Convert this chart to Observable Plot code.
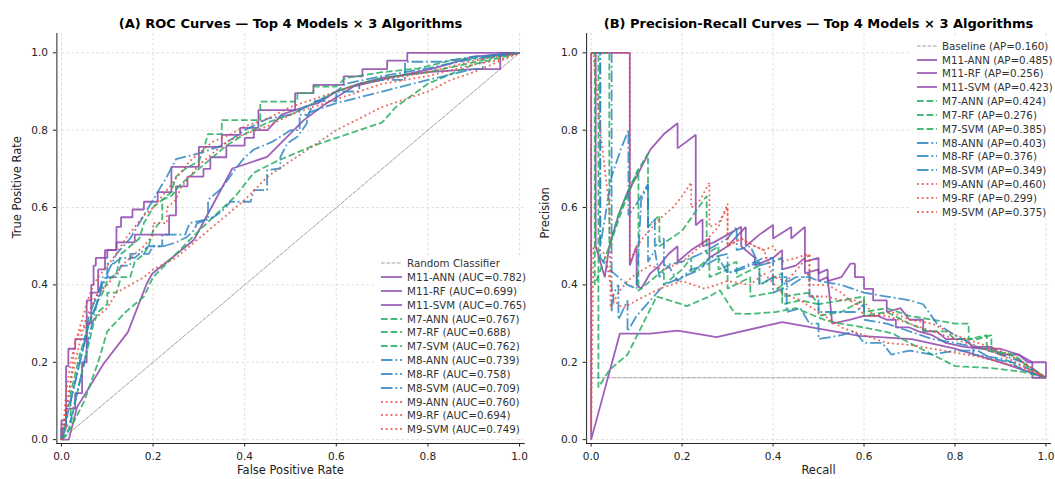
<!DOCTYPE html>
<html><head><meta charset="utf-8">
<script src="https://cdn.jsdelivr.net/npm/d3@7"></script>
<script src="https://cdn.jsdelivr.net/npm/@observablehq/plot@0.6"></script>
<style>
body{margin:0;background:#fff;font-family:"DejaVu Sans",sans-serif;}
#wrap{position:relative;width:1055px;height:479px;overflow:hidden;}
.panel{position:absolute;top:0;}
.legend{position:absolute;background:rgba(255,255,255,0.85);border-radius:3px;}
.row{position:absolute;left:0;height:14px;display:flex;align-items:center;font-size:10.3px;color:#333;white-space:nowrap;}
.row svg{margin-right:5px;}
</style>
</head><body><div id="wrap"></div>
<script>
// ---------- data ----------
const seriesNames = ["M11-ANN","M11-RF","M11-SVM","M7-ANN","M7-RF","M7-SVM","M8-ANN","M8-RF","M8-SVM","M9-ANN","M9-RF","M9-SVM"];
const aucValues = [0.782,0.699,0.765,0.767,0.688,0.762,0.739,0.758,0.709,0.760,0.694,0.749];
const apValues  = [0.485,0.256,0.423,0.424,0.276,0.385,0.403,0.376,0.349,0.460,0.299,0.375];
const baselineAP = 0.160;
const diagonal = [[0,0],[1,1]];
const tickValues = [0,0.2,0.4,0.6,0.8,1.0];

// ROC curves [fpr, tpr]
const rocM11ANN = [[0,0],[0,0.05],[0.01,0.05],[0.01,0.19],[0.015,0.19],[0.015,0.235],[0.03,0.235],[0.03,0.26],[0.055,0.26],[0.055,0.36],[0.065,0.36],[0.065,0.4],[0.07,0.4],[0.07,0.45],[0.075,0.45],[0.075,0.47],[0.1,0.47],[0.1,0.49],[0.12,0.49],[0.12,0.55],[0.13,0.55],[0.13,0.575],[0.155,0.575],[0.155,0.595],[0.18,0.595],[0.18,0.615],[0.21,0.615],[0.21,0.64],[0.24,0.64],[0.24,0.705],[0.3,0.705],[0.3,0.757],[0.35,0.757],[0.35,0.788],[0.39,0.788],[0.39,0.806],[0.43,0.806],[0.43,0.852],[0.51,0.852],[0.51,0.896],[0.55,0.896],[0.55,0.917],[0.616,0.917],[0.616,0.939],[0.657,0.939],[0.657,0.958],[0.711,0.958],[0.711,0.98],[0.755,0.98],[0.755,1.0],[1,1]];
const rocM11RF = [[0,0],[0.016,0],[0.034,0.084],[0.092,0.196],[0.145,0.278],[0.186,0.403],[0.198,0.429],[0.289,0.516],[0.373,0.701],[0.449,0.731],[0.529,0.826],[0.573,0.865],[0.638,0.913],[0.711,0.934],[0.813,0.96],[0.9,0.99],[1,1]];
const rocM11SVM = [[0,0],[0,0.03],[0.01,0.03],[0.01,0.08],[0.03,0.08],[0.03,0.12],[0.045,0.12],[0.045,0.2],[0.055,0.2],[0.055,0.3],[0.065,0.3],[0.065,0.38],[0.08,0.38],[0.08,0.44],[0.095,0.44],[0.095,0.49],[0.12,0.49],[0.12,0.51],[0.16,0.51],[0.16,0.53],[0.235,0.53],[0.235,0.58],[0.25,0.58],[0.25,0.655],[0.275,0.655],[0.275,0.68],[0.31,0.68],[0.31,0.7],[0.325,0.7],[0.325,0.73],[0.36,0.73],[0.36,0.76],[0.4,0.76],[0.4,0.78],[0.42,0.78],[0.42,0.8],[0.45,0.8],[0.48,0.84],[0.53,0.86],[0.56,0.87],[0.6,0.9],[0.65,0.92],[0.7,0.935],[0.8,0.95],[0.9,0.958],[0.958,0.958],[0.958,1],[1,1]];
const rocM7ANN = [[0,0],[0.005,0.02],[0.01,0.06],[0.02,0.06],[0.02,0.12],[0.03,0.17],[0.04,0.22],[0.05,0.26],[0.06,0.3],[0.07,0.33],[0.08,0.36],[0.09,0.38],[0.1,0.41],[0.12,0.43],[0.13,0.48],[0.15,0.5],[0.17,0.52],[0.18,0.56],[0.2,0.6],[0.22,0.62],[0.24,0.64],[0.25,0.68],[0.27,0.7],[0.3,0.72],[0.31,0.75],[0.32,0.79],[0.35,0.79],[0.35,0.826],[0.434,0.826],[0.434,0.874],[0.515,0.874],[0.515,0.896],[0.55,0.896],[0.55,0.913],[0.6,0.913],[0.62,0.935],[0.7,0.95],[0.78,0.96],[0.85,0.98],[0.93,0.99],[1,1]];
const rocM7RF = [[0,0],[0.02,0.03],[0.05,0.1],[0.08,0.2],[0.1,0.28],[0.14,0.33],[0.18,0.37],[0.2,0.42],[0.25,0.48],[0.3,0.54],[0.38,0.63],[0.42,0.69],[0.47,0.72],[0.55,0.76],[0.6,0.78],[0.7,0.82],[0.73,0.86],[0.8,0.92],[0.9,0.97],[1,1]];
const rocM7SVM = [[0,0],[0.01,0.01],[0.02,0.04],[0.03,0.1],[0.04,0.15],[0.05,0.2],[0.06,0.25],[0.07,0.3],[0.08,0.33],[0.1,0.35],[0.1,0.38],[0.12,0.38],[0.13,0.42],[0.15,0.42],[0.16,0.46],[0.18,0.48],[0.19,0.5],[0.2,0.54],[0.22,0.57],[0.22,0.62],[0.24,0.63],[0.26,0.66],[0.28,0.68],[0.3,0.7],[0.32,0.72],[0.34,0.74],[0.36,0.76],[0.4,0.79],[0.45,0.82],[0.5,0.84],[0.55,0.87],[0.6,0.9],[0.65,0.92],[0.7,0.935],[0.8,0.95],[0.88,0.97],[0.95,0.99],[1,1]];
const rocM8ANN = [[0,0],[0,0.04],[0.01,0.04],[0.01,0.08],[0.02,0.1],[0.03,0.15],[0.04,0.2],[0.05,0.25],[0.06,0.3],[0.07,0.33],[0.08,0.36],[0.09,0.4],[0.1,0.42],[0.12,0.42],[0.13,0.45],[0.15,0.45],[0.15,0.48],[0.19,0.48],[0.2,0.5],[0.22,0.5],[0.22,0.53],[0.27,0.53],[0.28,0.56],[0.32,0.57],[0.32,0.62],[0.35,0.65],[0.38,0.7],[0.4,0.73],[0.42,0.75],[0.46,0.77],[0.5,0.8],[0.52,0.8],[0.52,0.84],[0.54,0.84],[0.55,0.875],[0.6,0.875],[0.6,0.9],[0.65,0.9],[0.65,0.92],[0.7,0.93],[0.75,0.93],[0.75,0.977],[0.83,0.977],[0.9,0.99],[1,1]];
const rocM8RF = [[0,0],[0.01,0.05],[0.03,0.15],[0.05,0.25],[0.06,0.32],[0.08,0.38],[0.1,0.43],[0.12,0.48],[0.15,0.52],[0.18,0.58],[0.2,0.62],[0.23,0.68],[0.25,0.725],[0.3,0.74],[0.35,0.76],[0.4,0.8],[0.45,0.83],[0.5,0.84],[0.55,0.87],[0.6,0.9],[0.62,0.92],[0.7,0.94],[0.8,0.96],[0.88,0.98],[1,1]];
const rocM8SVM = [[0,0],[0.01,0.03],[0.02,0.05],[0.03,0.1],[0.04,0.15],[0.05,0.2],[0.06,0.27],[0.07,0.31],[0.08,0.37],[0.09,0.42],[0.1,0.42],[0.1,0.455],[0.114,0.455],[0.13,0.47],[0.16,0.47],[0.19,0.5],[0.223,0.5],[0.25,0.51],[0.274,0.524],[0.289,0.541],[0.296,0.559],[0.333,0.576],[0.35,0.59],[0.369,0.615],[0.413,0.615],[0.42,0.645],[0.449,0.645],[0.449,0.697],[0.478,0.701],[0.478,0.731],[0.493,0.766],[0.515,0.783],[0.536,0.818],[0.536,0.844],[0.6,0.87],[0.7,0.9],[0.8,0.93],[0.9,0.958],[0.92,0.958],[0.92,0.99],[1,1]];
const rocM9ANN = [[0,0],[0.005,0.05],[0.01,0.12],[0.02,0.2],[0.03,0.25],[0.04,0.29],[0.05,0.33],[0.06,0.37],[0.07,0.4],[0.08,0.42],[0.1,0.45],[0.12,0.48],[0.14,0.52],[0.16,0.55],[0.18,0.58],[0.2,0.6],[0.22,0.63],[0.24,0.66],[0.26,0.69],[0.28,0.72],[0.3,0.74],[0.33,0.77],[0.37,0.79],[0.4,0.81],[0.45,0.83],[0.5,0.86],[0.55,0.88],[0.6,0.9],[0.65,0.92],[0.7,0.93],[0.8,0.95],[0.9,0.98],[1,1]];
const rocM9RF = [[0,0],[0.01,0.06],[0.02,0.15],[0.03,0.25],[0.04,0.28],[0.06,0.3],[0.08,0.32],[0.1,0.34],[0.12,0.38],[0.15,0.4],[0.18,0.42],[0.2,0.44],[0.25,0.47],[0.3,0.52],[0.35,0.57],[0.4,0.62],[0.45,0.68],[0.5,0.72],[0.55,0.76],[0.6,0.8],[0.65,0.83],[0.7,0.86],[0.75,0.88],[0.8,0.9],[0.85,0.93],[0.9,0.95],[1,1]];
const rocM9SVM = [[0,0],[0.01,0.08],[0.02,0.15],[0.03,0.2],[0.04,0.25],[0.05,0.3],[0.06,0.33],[0.07,0.36],[0.08,0.38],[0.1,0.4],[0.12,0.43],[0.14,0.46],[0.16,0.48],[0.18,0.5],[0.2,0.53],[0.2,0.56],[0.23,0.56],[0.23,0.6],[0.25,0.62],[0.26,0.65],[0.28,0.68],[0.3,0.71],[0.33,0.74],[0.36,0.77],[0.4,0.79],[0.45,0.81],[0.5,0.84],[0.55,0.86],[0.6,0.88],[0.65,0.9],[0.7,0.92],[0.8,0.94],[0.9,0.97],[0.95,0.98],[1,1]];

// Precision-recall curves [recall, precision]
const prM11ANN = [[0,1],[0.085,1],[0.085,0.45],[0.1,0.5],[0.1,0.4],[0.11,0.39],[0.13,0.43],[0.15,0.45],[0.17,0.48],[0.19,0.5],[0.19,0.46],[0.22,0.49],[0.26,0.52],[0.26,0.47],[0.3,0.5],[0.34,0.55],[0.34,0.5],[0.37,0.53],[0.4,0.555],[0.4,0.52],[0.44,0.55],[0.44,0.52],[0.47,0.55],[0.47,0.46],[0.5,0.47],[0.5,0.43],[0.52,0.44],[0.52,0.41],[0.55,0.42],[0.57,0.455],[0.58,0.455],[0.58,0.42],[0.6,0.42],[0.6,0.39],[0.62,0.39],[0.62,0.36],[0.65,0.36],[0.65,0.33],[0.68,0.34],[0.7,0.31],[0.73,0.31],[0.73,0.28],[0.76,0.28],[0.78,0.26],[0.82,0.26],[0.84,0.24],[0.88,0.24],[0.9,0.22],[0.94,0.22],[0.96,0.2],[1,0.2],[1,0.16]];
const prM11RF = [[0,1],[0,0],[0.063,0.274],[0.13,0.274],[0.19,0.282],[0.276,0.265],[0.42,0.304],[0.59,0.268],[0.705,0.26],[0.8,0.235],[0.9,0.2],[1,0.16]];
const prM11SVM = [[0,1],[0.01,1],[0.01,0.5],[0.03,0.42],[0.04,0.5],[0.06,0.58],[0.08,0.64],[0.1,0.68],[0.13,0.75],[0.16,0.79],[0.19,0.818],[0.19,0.753],[0.23,0.788],[0.23,0.554],[0.245,0.57],[0.245,0.5],[0.27,0.51],[0.3,0.53],[0.33,0.55],[0.33,0.5],[0.36,0.47],[0.36,0.45],[0.4,0.47],[0.42,0.49],[0.42,0.44],[0.45,0.45],[0.47,0.47],[0.47,0.43],[0.5,0.44],[0.5,0.41],[0.52,0.42],[0.53,0.3],[0.57,0.31],[0.6,0.32],[0.63,0.32],[0.65,0.31],[0.67,0.31],[0.67,0.29],[0.7,0.29],[0.72,0.28],[0.75,0.27],[0.78,0.25],[0.82,0.24],[0.86,0.235],[0.9,0.235],[0.94,0.22],[0.97,0.2],[0.97,0.16],[1,0.16]];
const prM7ANN = [[0,1],[0.04,1],[0.04,0.5],[0.06,0.58],[0.08,0.64],[0.1,0.69],[0.125,0.74],[0.125,0.55],[0.15,0.58],[0.15,0.5],[0.2,0.54],[0.254,0.63],[0.254,0.48],[0.28,0.5],[0.28,0.44],[0.32,0.46],[0.32,0.42],[0.37,0.45],[0.37,0.4],[0.42,0.43],[0.42,0.37],[0.48,0.38],[0.5,0.35],[0.55,0.36],[0.6,0.37],[0.6,0.33],[0.65,0.34],[0.7,0.32],[0.75,0.31],[0.8,0.3],[0.83,0.3],[0.83,0.26],[0.87,0.27],[0.87,0.23],[0.92,0.22],[0.96,0.19],[1,0.16]];
const prM7RF = [[0,1],[0.016,1],[0.016,0.135],[0.04,0.18],[0.08,0.22],[0.11,0.29],[0.144,0.37],[0.2,0.35],[0.21,0.345],[0.26,0.37],[0.283,0.386],[0.316,0.326],[0.35,0.325],[0.407,0.33],[0.45,0.34],[0.516,0.308],[0.55,0.3],[0.6,0.29],[0.662,0.275],[0.7,0.25],[0.75,0.22],[0.8,0.19],[0.88,0.185],[0.95,0.175],[1,0.16]];
const prM7SVM = [[0,1],[0.008,1],[0.008,0.4],[0.04,0.5],[0.07,0.6],[0.104,0.7],[0.104,0.385],[0.13,0.41],[0.16,0.44],[0.16,0.4],[0.2,0.44],[0.22,0.47],[0.22,0.43],[0.26,0.47],[0.26,0.42],[0.3,0.44],[0.3,0.39],[0.35,0.42],[0.35,0.37],[0.4,0.38],[0.42,0.4],[0.42,0.35],[0.46,0.36],[0.5,0.35],[0.5,0.32],[0.55,0.33],[0.58,0.35],[0.6,0.36],[0.6,0.32],[0.65,0.33],[0.7,0.3],[0.74,0.28],[0.78,0.28],[0.8,0.26],[0.85,0.26],[0.88,0.27],[0.88,0.23],[0.93,0.22],[0.96,0.19],[1,0.16]];
const prM8ANN = [[0,1],[0.02,1],[0.02,0.5],[0.045,0.68],[0.065,0.75],[0.082,0.8],[0.082,0.58],[0.1,0.61],[0.125,0.66],[0.125,0.55],[0.14,0.57],[0.14,0.5],[0.16,0.52],[0.16,0.45],[0.2,0.46],[0.24,0.48],[0.27,0.5],[0.3,0.52],[0.32,0.55],[0.32,0.49],[0.35,0.5],[0.37,0.45],[0.4,0.46],[0.42,0.47],[0.42,0.4],[0.45,0.42],[0.48,0.42],[0.5,0.41],[0.55,0.4],[0.6,0.38],[0.65,0.37],[0.7,0.36],[0.73,0.35],[0.76,0.3],[0.8,0.27],[0.85,0.24],[0.9,0.22],[0.95,0.2],[1,0.16]];
const prM8RF = [[0,1],[0.045,1],[0.045,0.33],[0.05,0.38],[0.06,0.4],[0.06,0.31],[0.08,0.36],[0.08,0.28],[0.1,0.32],[0.13,0.36],[0.16,0.4],[0.2,0.42],[0.24,0.44],[0.26,0.47],[0.3,0.48],[0.3,0.43],[0.34,0.45],[0.38,0.47],[0.4,0.47],[0.4,0.38],[0.44,0.4],[0.48,0.43],[0.48,0.37],[0.5,0.37],[0.5,0.33],[0.54,0.33],[0.58,0.33],[0.6,0.35],[0.6,0.31],[0.65,0.3],[0.7,0.28],[0.75,0.26],[0.8,0.25],[0.84,0.24],[0.84,0.22],[0.9,0.21],[0.95,0.19],[1,0.16]];
const prM8SVM = [[0,1],[0.02,1],[0.02,0.47],[0.04,0.44],[0.06,0.42],[0.08,0.4],[0.1,0.39],[0.11,0.62],[0.125,0.66],[0.125,0.46],[0.14,0.49],[0.15,0.42],[0.17,0.45],[0.19,0.41],[0.22,0.44],[0.25,0.45],[0.28,0.47],[0.3,0.43],[0.33,0.44],[0.37,0.46],[0.37,0.4],[0.4,0.42],[0.43,0.42],[0.43,0.33],[0.46,0.34],[0.48,0.3],[0.5,0.3],[0.5,0.26],[0.55,0.27],[0.58,0.28],[0.6,0.25],[0.64,0.25],[0.66,0.22],[0.7,0.23],[0.75,0.22],[0.8,0.23],[0.85,0.23],[0.88,0.21],[0.92,0.2],[0.95,0.18],[1,0.16]];
const prM9ANN = [[0,1],[0.085,1],[0.085,0.46],[0.1,0.5],[0.12,0.53],[0.15,0.57],[0.18,0.6],[0.2,0.63],[0.22,0.665],[0.22,0.6],[0.24,0.62],[0.26,0.665],[0.26,0.55],[0.28,0.56],[0.3,0.6],[0.3,0.5],[0.33,0.52],[0.36,0.5],[0.38,0.49],[0.4,0.5],[0.42,0.46],[0.45,0.47],[0.48,0.48],[0.48,0.4],[0.52,0.4],[0.55,0.38],[0.58,0.35],[0.6,0.36],[0.62,0.32],[0.66,0.33],[0.7,0.31],[0.75,0.3],[0.8,0.27],[0.85,0.25],[0.9,0.23],[0.95,0.2],[1,0.16]];
const prM9RF = [[0,1],[0,0.02],[0.005,0.5],[0.03,0.48],[0.05,0.36],[0.07,0.34],[0.1,0.36],[0.15,0.39],[0.2,0.41],[0.25,0.39],[0.3,0.41],[0.35,0.4],[0.38,0.43],[0.42,0.38],[0.46,0.36],[0.5,0.33],[0.55,0.29],[0.6,0.27],[0.65,0.25],[0.7,0.245],[0.75,0.235],[0.8,0.225],[0.85,0.215],[0.9,0.2],[0.95,0.185],[1,0.16]];
const prM9SVM = [[0,1],[0.005,1],[0.02,0.8],[0.04,0.6],[0.043,0.34],[0.06,0.38],[0.08,0.41],[0.1,0.43],[0.13,0.45],[0.16,0.44],[0.2,0.46],[0.24,0.5],[0.28,0.55],[0.3,0.61],[0.3,0.5],[0.33,0.52],[0.36,0.5],[0.38,0.49],[0.4,0.42],[0.43,0.41],[0.46,0.45],[0.48,0.48],[0.48,0.37],[0.52,0.37],[0.55,0.36],[0.58,0.36],[0.6,0.32],[0.65,0.32],[0.7,0.3],[0.75,0.28],[0.8,0.26],[0.85,0.24],[0.9,0.22],[0.95,0.19],[1,0.16]];

const rocCurves = [rocM11ANN,rocM11RF,rocM11SVM,rocM7ANN,rocM7RF,rocM7SVM,rocM8ANN,rocM8RF,rocM8SVM,rocM9ANN,rocM9RF,rocM9SVM];
const prCurves  = [prM11ANN,prM11RF,prM11SVM,prM7ANN,prM7RF,prM7SVM,prM8ANN,prM8RF,prM8SVM,prM9ANN,prM9RF,prM9SVM];

// ---------- styles ----------
const LW = 1.8;
const modelStyle = {
  "M11": {color:"#8e44ad", dash:"none"},
  "M7":  {color:"#27ae60", dash:"6.7,2.9"},
  "M8":  {color:"#2e86c1", dash:"11.5,2.9,1.8,2.9"},
  "M9":  {color:"#e74c3c", dash:"1.8,3"}
};
const styleOf = name => modelStyle[name.split("-")[0]];
const refStyle = {color:"#888", dash:"3.7,1.6", width:1};

function makePanel(opts) {
  const {curves, title, xLabel, yLabel, width, marginLeft, marginRight, refData, yLabelDx} = opts;
  const gridStyle = {stroke:"#b8b8b8", strokeOpacity:0.6, strokeDasharray:"2.5,2.5", strokeWidth:0.8};
  const marks = [
    Plot.ruleX(tickValues, gridStyle),
    Plot.ruleY(tickValues, gridStyle),
    Plot.line(refData, {x:d=>d[0], y:d=>d[1], stroke:refStyle.color, strokeWidth:refStyle.width, strokeDasharray:refStyle.dash, strokeOpacity:0.8})
  ];
  curves.forEach((c,i) => {
    const st = styleOf(seriesNames[i]);
    marks.push(Plot.line(c, {x:d=>d[0], y:d=>d[1], stroke:st.color, strokeWidth:LW, strokeOpacity:0.85,
      strokeDasharray: st.dash === "none" ? undefined : st.dash, strokeLinejoin:"miter", strokeLinecap:"butt"}));
  });
  marks.push(Plot.text([title], {frameAnchor:"top", dy:-15, text:d=>d, fontWeight:"bold", fontSize:13, fill:"#000"}));
  marks.push(Plot.text([xLabel], {frameAnchor:"bottom", dy:30, text:d=>d, fontSize:11.5, fill:"#222"}));
  marks.push(Plot.text([yLabel], {frameAnchor:"left", dx:yLabelDx, rotate:-90, text:d=>d, fontSize:11.5, fill:"#222"}));
  return Plot.plot({
    width, height:479,
    marginLeft, marginRight, marginTop:33, marginBottom:36,
    style:{fontFamily:"DejaVu Sans", fontSize:"10.5px", color:"#222", background:"transparent", overflow:"visible"},
    x:{domain:[-0.01,1.01], ticks:tickValues, tickFormat:d3.format(".1f"), label:null, tickSize:3.5, line:true},
    y:{domain:[-0.01,1.05], ticks:tickValues, tickFormat:d3.format(".1f"), label:null, tickSize:3.5, line:true},
    marks
  });
}

const wrap = document.getElementById("wrap");

const left = makePanel({curves:rocCurves, title:"(A) ROC Curves — Top 4 Models × 3 Algorithms",
  xLabel:"False Positive Rate", yLabel:"True Positive Rate", width:527, marginLeft:56.4, marginRight:3.4, refData:diagonal, yLabelDx:-39.5});
left.classList.add("panel"); left.style.left = "0px";
wrap.appendChild(left);

const baseline = [[0,baselineAP],[1,baselineAP]];
const right = makePanel({curves:prCurves, title:"(B) Precision-Recall Curves — Top 4 Models × 3 Algorithms",
  xLabel:"Recall", yLabel:"Precision", width:528, marginLeft:59.1, marginRight:5, refData:baseline, yLabelDx:-41});
right.classList.add("panel"); right.style.left = "527px";
wrap.appendChild(right);

// ---------- legends ----------
function legend(box, entries) {
  const div = document.createElement("div");
  div.className = "legend";
  Object.assign(div.style, {left:box.left+"px", top:box.top+"px", width:box.width+"px", height:box.height+"px"});
  entries.forEach((e,i) => {
    const row = document.createElement("div");
    row.className = "row";
    row.style.top = (box.firstCenter - box.top - 7 + i*box.step) + "px";
    row.style.left = box.pad + "px";
    const w = e.width || LW;
    const dash = e.dash === "none" ? "" : `stroke-dasharray="${e.dash}"`;
    row.innerHTML = `<svg width="${box.sample}" height="10"><line x1="0" y1="5" x2="${box.sample}" y2="5" stroke="${e.color}" stroke-width="${w}" stroke-opacity="${e.opacity||0.85}" ${dash}/></svg><span>${e.label}</span>`;
    div.appendChild(row);
  });
  wrap.appendChild(div);
}
const rocEntries = [{label:"Random Classifier", color:refStyle.color, dash:refStyle.dash, width:1, opacity:0.8}]
  .concat(seriesNames.map((n,i)=>({label:`${n} (AUC=${aucValues[i].toFixed(3)})`, color:styleOf(n).color, dash:styleOf(n).dash})));
const prEntries = [{label:`Baseline (AP=${baselineAP.toFixed(3)})`, color:refStyle.color, dash:refStyle.dash, width:1, opacity:0.8}]
  .concat(seriesNames.map((n,i)=>({label:`${n} (AP=${apValues[i].toFixed(3)})`, color:styleOf(n).color, dash:styleOf(n).dash})));
legend({left:375, top:255, width:148, height:184, firstCenter:263.3, step:13.83, pad:6, sample:21}, rocEntries);
legend({left:911, top:37, width:140, height:181, firstCenter:45.7, step:13.83, pad:6, sample:20}, prEntries);
</script>
</body></html>
